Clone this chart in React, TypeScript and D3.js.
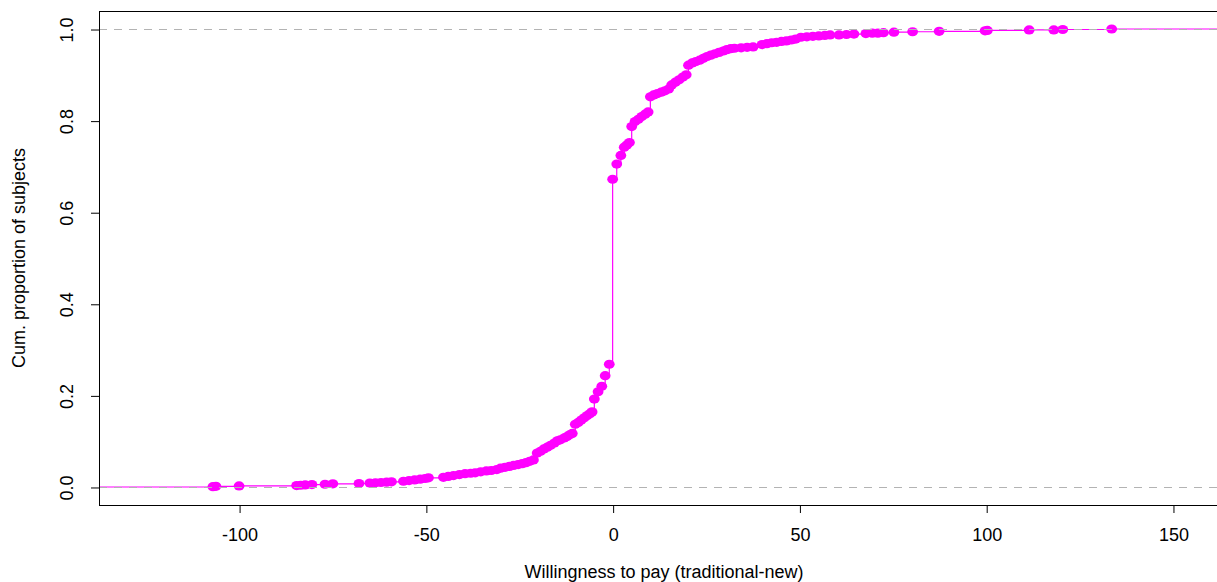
import { useEffect, useRef } from 'react';
import * as d3 from 'd3';

const wtpValues = [
  -107.0, -106.2, -100.0, -84.6, -83.5, -82.3, -80.5, -77.0, -74.9, -67.9,
  -65.0, -63.5, -62.0, -60.5, -59.2, -56.0, -54.5, -53.0, -51.5, -50.2,
  -49.3, -45.3, -44.0, -42.6, -41.0, -39.5, -38.0, -36.8, -35.3, -33.8,
  -32.5, -31.0, -30.0, -28.8, -27.6, -26.5, -25.3, -24.2, -23.2, -22.2,
  -21.2, -20.2, -19.3, -18.4, -17.5, -16.6, -15.6, -14.8, -14.0, -13.0,
  -12.2, -11.5, -10.8, -10.0, -9.2, -8.4, -7.6, -6.8, -6.1, -5.5,
  -4.9, -3.9, -2.9, -2.0, -0.9,
  0.0, 1.1, 2.2, 3.1, 3.8, 4.5, 5.1, 6.0, 6.9, 7.8,
  8.7, 9.5, 10.1, 11.0, 12.0, 13.0, 14.0, 15.0, 15.8, 16.8,
  17.8, 18.8, 19.7, 20.3, 21.3, 22.3, 23.3, 24.3, 25.3, 26.3,
  27.4, 28.5, 29.6, 30.6, 31.6, 32.6, 34.4, 36.0, 37.6, 40.0,
  41.3, 42.6, 43.9, 45.2, 46.5, 47.8, 49.0, 50.4, 52.0, 53.6,
  55.2, 56.8, 58.2, 60.6, 62.6, 64.6, 67.8, 69.5, 71.0, 72.5,
  75.3, 80.3, 87.4, 99.7, 100.3, 111.5, 118.1, 120.5, 133.6,
];

const cumProp = [
  0.0007, 0.0015, 0.0022, 0.0030, 0.0038, 0.0045, 0.0052, 0.0060, 0.0068, 0.0076,
  0.0085, 0.0092, 0.0098, 0.0105, 0.0112, 0.0125, 0.0140, 0.0155, 0.0170, 0.0185,
  0.0200, 0.021, 0.023, 0.025, 0.027, 0.029, 0.030, 0.031, 0.033, 0.035,
  0.036, 0.038, 0.041, 0.043, 0.045, 0.047, 0.049, 0.051, 0.053, 0.056,
  0.059, 0.074, 0.078, 0.083, 0.087, 0.091, 0.096, 0.101, 0.103, 0.107,
  0.110, 0.114, 0.117, 0.137, 0.141, 0.146, 0.151, 0.156, 0.160, 0.164,
  0.192, 0.208, 0.220, 0.243, 0.268,
  0.672, 0.705, 0.724, 0.742, 0.747, 0.752, 0.787, 0.798, 0.803, 0.809,
  0.814, 0.819, 0.852, 0.856, 0.859, 0.862, 0.865, 0.869, 0.878, 0.884,
  0.889, 0.895, 0.900, 0.921, 0.926, 0.929, 0.932, 0.936, 0.940, 0.943,
  0.946, 0.949, 0.952, 0.955, 0.957, 0.958, 0.959, 0.960, 0.961, 0.966,
  0.968, 0.970, 0.971, 0.973, 0.974, 0.976, 0.978, 0.982, 0.983, 0.984,
  0.985, 0.986, 0.987, 0.987, 0.988, 0.989, 0.990, 0.991, 0.991, 0.992,
  0.993, 0.994, 0.995, 0.996, 0.997, 0.998, 0.998, 0.999, 1.000,
];

const xTicks = [-100, -50, 0, 50, 100, 150];
const yTicks = [0, 0.2, 0.4, 0.6, 0.8, 1.0];
const refLines = [0, 1];

const xLabel = 'Willingness to pay (traditional-new)';
const yLabel = 'Cum. proportion of subjects';

const App = () => {
  const svgRef = useRef<SVGSVGElement>(null);

  useEffect(() => {
    const width = 1217;
    const height = 582;
    const plot = { left: 99, right: 1229, top: 10.7, bottom: 505.3 };
    const font = '"Liberation Sans", Arial, Helvetica, sans-serif';

    d3.select(svgRef.current).selectAll('*').remove();
    const svg = d3.select(svgRef.current)
      .attr('width', width)
      .attr('height', height)
      .style('font-family', font);

    const x = d3.scaleLinear().domain([-137.5, 165]).range([plot.left, plot.right]);
    const y = d3.scaleLinear().domain([-0.04, 1.04]).range([plot.bottom, plot.top]);

    svg.append('defs').append('clipPath').attr('id', 'plotClip')
      .append('rect')
      .attr('x', plot.left).attr('y', plot.top)
      .attr('width', plot.right - plot.left).attr('height', plot.bottom - plot.top);

    const pts = wtpValues.map((v, i) => ({ v, p: cumProp[i] }));
    const [xmin, xmax] = x.domain();

    // step function with verticals, extended to the plot edges
    const step = d3.line<{ v: number; p: number }>()
      .x(d => x(d.v))
      .y(d => y(d.p))
      .curve(d3.curveStepAfter);

    const g = svg.append('g').attr('clip-path', 'url(#plotClip)');

    g.append('path')
      .datum([{ v: xmin, p: 0 }, ...pts, { v: xmax, p: 1 }])
      .attr('fill', 'none')
      .attr('stroke', '#ff00ff')
      .attr('stroke-width', 1.2)
      .attr('d', step);

    g.selectAll('ellipse')
      .data(pts)
      .enter()
      .append('ellipse')
      .attr('cx', d => x(d.v))
      .attr('cy', d => y(d.p))
      .attr('rx', 5.4)
      .attr('ry', 4.6)
      .attr('fill', '#ff00ff');

    // dashed gray lines at 0 and 1 go on top, like abline() after plot.ecdf
    g.selectAll('line.ref')
      .data(refLines)
      .enter()
      .append('line')
      .attr('class', 'ref')
      .attr('x1', plot.left).attr('x2', plot.right)
      .attr('y1', d => Math.round(y(d)) + 0.5).attr('y2', d => Math.round(y(d)) + 0.5)
      .attr('stroke', '#b3b3b3')
      .attr('stroke-width', 1)
      .attr('stroke-dasharray', '8,7');

    // frame
    svg.append('rect')
      .attr('x', plot.left + 0.5).attr('y', Math.round(plot.top) + 0.5)
      .attr('width', plot.right - plot.left).attr('height', Math.round(plot.bottom) - Math.round(plot.top))
      .attr('fill', 'none')
      .attr('stroke', '#000')
      .attr('stroke-width', 1);

    // x axis
    const xAxis = svg.append('g')
      .attr('transform', `translate(0.5, ${Math.round(plot.bottom)})`)
      .call(d3.axisBottom(x).tickValues(xTicks).tickSize(8).tickPadding(15).tickFormat(d3.format('d')));
    xAxis.select('.domain').remove();
    xAxis.selectAll('line').attr('stroke', '#000');
    xAxis.selectAll('text')
      .style('font-size', '18px')
      .style('font-family', font)
      .attr('fill', '#000')
      .text(d => String(d).replace('−', '-'));

    // y axis, labels turned parallel to the axis like R's las=0
    const yAxis = svg.append('g')
      .attr('transform', `translate(${plot.left}, 0.5)`)
      .call(d3.axisLeft(y).tickValues(yTicks).tickSize(8).tickFormat(d3.format('.1f')));
    yAxis.select('.domain').remove();
    yAxis.selectAll('line').attr('stroke', '#000');
    yAxis.selectAll('text')
      .attr('transform', 'rotate(-90)')
      .attr('x', 0)
      .attr('y', -26)
      .attr('dy', null)
      .attr('text-anchor', 'middle')
      .attr('fill', '#000')
      .style('font-size', '18px')
      .style('font-family', font);

    svg.append('text')
      .attr('x', (plot.left + plot.right) / 2)
      .attr('y', 578)
      .attr('text-anchor', 'middle')
      .style('font-size', '18px')
      .text(xLabel);

    svg.append('text')
      .attr('transform', `translate(25, ${(plot.top + plot.bottom) / 2}) rotate(-90)`)
      .attr('text-anchor', 'middle')
      .style('font-size', '18px')
      .text(yLabel);
  }, []);

  return (
    <div style={{ position: 'absolute', left: 0, top: 0, background: '#fff' }}>
      <svg ref={svgRef} style={{ display: 'block' }} />
    </div>
  );
};

export default App;
